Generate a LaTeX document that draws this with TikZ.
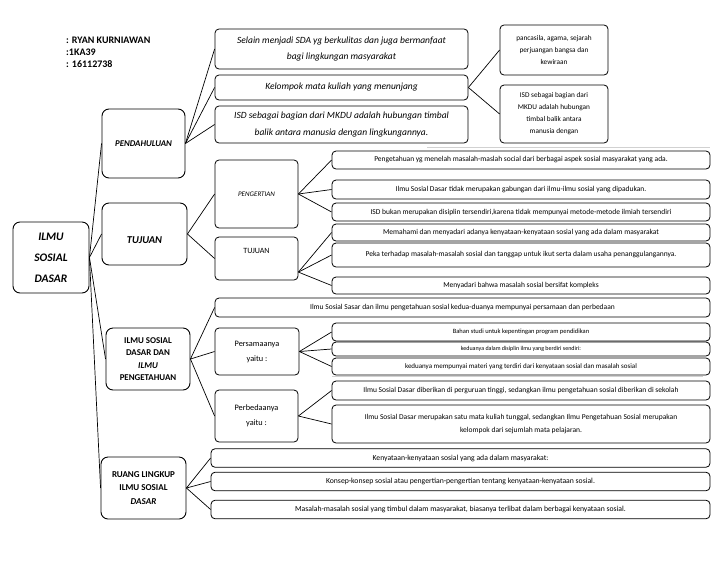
\documentclass[tikz,border=0pt]{standalone}
\usepackage{fontspec}
\setmainfont{Carlito}
\newcommand\fsz[2]{\fontsize{#1}{#2}\selectfont}

\begin{document}
\begin{tikzpicture}[x=1pt, y=-1pt,
  hub/.style  = {draw, line width=0.9pt, rounded corners=7pt, align=center, inner sep=0pt},
  bx/.style   = {draw, line width=0.8pt, rounded corners=4pt, align=center, inner sep=0pt},
  sz/.style 2 args = {minimum width=#1pt, minimum height=#2pt},
  ln/.style   = {line width=0.7pt},
  % faint scan marks of the original page
  ghost/.style = {draw=black!18, line width=0.8pt},
]
\useasboundingbox (0,0) rectangle (728,563);

\node[anchor=west, align=left, inner sep=0pt, font=\fsz{10}{12}\bfseries] (who) at (66,52)
  {: RYAN KURNIAWAN\\:1KA39\\: 16112738};

% left column: root and its four topics
\node[hub, sz={76}{71}, font=\fsz{11.5}{21}\bfseries\itshape] (isd)  at (51,257.5) {ILMU\\SOSIAL\\DASAR};
\node[hub, sz={83}{69}, font=\fsz{8.8}{10}\bfseries\itshape]  (pend) at (143.5,143.5) {PENDAHULUAN};
\node[hub, sz={85}{62}, font=\fsz{10.5}{11}\bfseries\itshape, text height=19pt] (tuj) at (144.5,234) {TUJUAN};
\node[hub, sz={84}{62}, font=\fsz{8.9}{12.5}\bfseries]        (dan)  at (148,359)
  {ILMU SOSIAL\\DASAR DAN\\\textit{ILMU}\\PENGETAHUAN};
\node[hub, sz={85}{62}, font=\fsz{9}{13.5}\bfseries]          (rl)   at (143.5,488)
  {RUANG LINGKUP\\ILMU SOSIAL\\\textit{DASAR}};

% pendahuluan
\node[bx, sz={253}{40}, font=\fsz{9.5}{16}\itshape] (sda) at (341.5,49)
  {Selain menjadi SDA yg berkulitas dan juga bermanfaat\\bagi lingkungan masyarakat};
\node[bx, sz={253}{25}, font=\fsz{9.5}{10}\itshape] (mk)  at (341.5,87.5) {Kelompok mata kuliah yang menunjang};
\node[bx, sz={253}{37}, font=\fsz{9.5}{17}\itshape] (tbl) at (341.5,124.5)
  {ISD sebagai bagian dari MKDU adalah hubungan timbal\\balik antara manusia dengan lingkungannya.};
\node[bx, sz={108}{50}, font=\fsz{7.3}{12}] (pcs)  at (554,50) {pancasila, agama, sejarah\\perjuangan bangsa dan\\kewiraan};
\node[bx, sz={108}{58}, font=\fsz{7.3}{12}] (mkdu) at (554,114)
  {ISD sebagai bagian dari\\MKDU adalah hubungan\\timbal balik antara\\manusia dengan};

% tujuan and ruang lingkup sub-boxes
\node[bx, sz={83}{68}, font=\fsz{7}{9}\itshape] (peng) at (256.5,194) {PENGERTIAN};
\node[bx, sz={83}{43}, font=\fsz{8}{9}, text depth=16pt] (tujs) at (256.5,258.5) {TUJUAN};
\node[bx, sz={495}{19}, font=\fsz{7.5}{8}] (sama) at (462.5,307.5)
  {Ilmu Sosial Sasar dan ilmu pengetahuan sosial kedua-duanya mempunyai persamaan dan perbedaan};
\node[bx, sz={84}{47}, font=\fsz{8.3}{15}] (psm) at (257,351.5) {Persamaanya\\yaitu :};
\node[bx, sz={83}{52}, font=\fsz{8.3}{15}] (pbd) at (256.5,416) {Perbedaanya\\yaitu :};

% right column of statements
\foreach \n/\y/\h/\f/\t in {
  pg1/160/18/7.5/{Pengetahuan yg menelah masalah-maslah social dari berbagai aspek sosial masyarakat yang ada.},
  pg2/189.5/19/7.5/{Ilmu Sosial Dasar tidak merupakan gabungan dari ilmu-ilmu sosial yang dipadukan.},
  pg3/212/18/7.5/{ISD bukan merupakan disiplin tersendiri,karena tidak mempunyai metode-metode ilmiah tersendiri},
  pg4/232.5/17/7.5/{Memahami dan menyadari adanya kenyataan-kenyataan sosial yang ada dalam masyarakat},
  pg5/255/24/7.5/{Peka terhadap masalah-masalah sosial dan tanggap untuk ikut serta dalam usaha penanggulangannya.},
  pg6/285.5/17/7.5/{Menyadari bahwa masalah sosial bersifat kompleks},
  ps1/332/18/6.5/{Bahan studi untuk kepentingan program pendidikan},
  ps2/349/14/6/{keduanya dalam disiplin ilmu yang berdiri sendiri:},
  ps3/366.5/17/7/{keduanya mempunyai materi yang terdiri dari kenyataan sosial dan masalah sosial},
  pb1/390.5/19/7.5/{Ilmu Sosial Dasar diberikan di perguruan tinggi, sedangkan ilmu pengetahuan sosial diberikan di sekolah},
  pb2/424/38/7.5/{Ilmu Sosial Dasar merupakan satu mata kuliah tunggal, sedangkan Ilmu Pengetahuan Sosial merupakan\\kelompok dari sejumlah mata pelajaran.}}
  \node[bx, sz={378}{\h}, font=\fsz{\f}{13}] (\n) at (521,\y) {\t};

\foreach \n/\y/\t in {
  rl1/458/{Kenyataan-kenyataan sosial yang ada dalam masyarakat:},
  rl2/481.5/{Konsep-konsep sosial atau pengertian-pengertian tentang kenyataan-kenyataan sosial.},
  rl3/509.5/{Masalah-masalah sosial yang timbul dalam masyarakat, biasanya terlibat dalam berbagai kenyataan sosial.}}
  \node[bx, sz={499}{18.5}, font=\fsz{7.7}{9}] (\n) at (460.5,\y) {\t};

% connectors
\foreach \a/\b in {isd.east/pend.west, isd.east/tuj.west, isd.east/dan.west, isd.east/rl.west,
                   pend.east/sda.west, pend.east/mk.west, pend.east/tbl.west,
                   mk.east/pcs.west, mk.east/mkdu.west,
                   tuj.east/peng.west, tuj.east/tujs.west,
                   peng.east/pg1.west, peng.east/pg2.west, peng.east/pg3.west,
                   tujs.-18/pg4.west, tujs.-18/pg5.west, tujs.-18/pg6.west,
                   dan.east/sama.west, dan.east/psm.west, dan.east/pbd.west,
                   psm.east/ps1.west, psm.east/ps2.west, psm.east/ps3.west,
                   pbd.east/pb1.west, pbd.east/pb2.west,
                   rl.east/rl1.west, rl.east/rl2.west, rl.east/rl3.west}
  \draw[ln] (\a) -- (\b);

\draw[ghost] (427,147) -- (710,147);
\draw[ghost] (332,376.5) -- (703,376.5);
\end{tikzpicture}
\end{document}
